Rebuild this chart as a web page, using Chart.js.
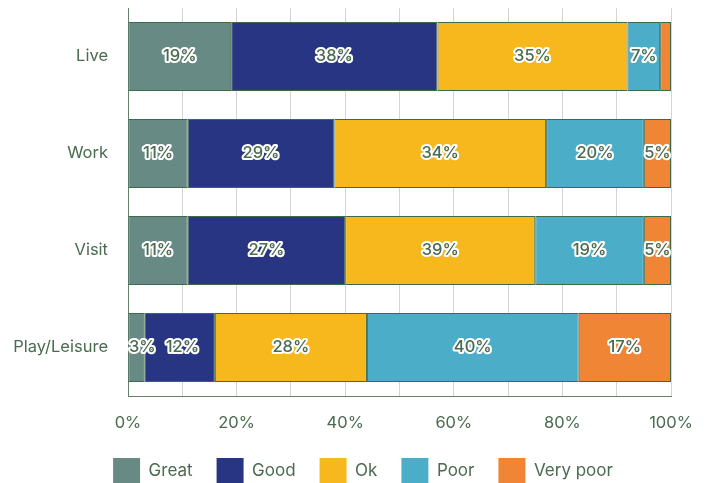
<!DOCTYPE html>
<html>
<head>
<meta charset="utf-8">
<script src="https://cdn.jsdelivr.net/npm/chart.js@4"></script>
<style>
  html, body { margin: 0; padding: 0; background: #fff; }
  #wrap { width: 713px; height: 483px; }
</style>
</head>
<body>
<div id="wrap"><canvas id="myChart"></canvas></div>
<script>
var categories = ["Live", "Work", "Visit", "Play/Leisure"];
var seriesNames = ["Great", "Good", "Ok", "Poor", "Very poor"];
var barColors = ["#678a84", "#283583", "#f6b81c", "#4badc8", "#ef8535"];

// bar lengths as drawn (%)
var great = [19, 11, 11, 3];
var good = [38, 27, 29, 13];
var ok = [35, 39, 35, 28];
var poor = [6, 18, 20, 39];
var veryPoor = [2, 5, 5, 17];

// percentages as printed on the bars
var greatLabels = [19, 11, 11, 3];
var goodLabels = [38, 29, 27, 12];
var okLabels = [35, 34, 39, 28];
var poorLabels = [7, 20, 19, 40];
var veryPoorLabels = [null, 5, 5, 17];

var xTicks = [0, 10, 20, 30, 40, 50, 60, 70, 80, 90, 100];
var xLabelled = [0, 20, 40, 60, 80, 100];

var values = [great, good, ok, poor, veryPoor];
var printed = [greatLabels, goodLabels, okLabels, poorLabels, veryPoorLabels];
var green = "#4a6b4f";
var fontFam = "Inter, 'Liberation Sans', sans-serif";

// percentage labels: green text with a white halo, pushed right if they collide
var barLabels = {
  id: "barLabels",
  afterDatasetsDraw: function(chart) {
    var ctx = chart.ctx;
    var left = chart.chartArea.left;
    var rowRight = categories.map(function() { return -Infinity; });
    ctx.save();
    ctx.font = "500 16.5px " + fontFam;
    ctx.textAlign = "center";
    ctx.textBaseline = "middle";
    ctx.lineJoin = "round";
    chart.data.datasets.forEach(function(ds, i) {
      var meta = chart.getDatasetMeta(i);
      meta.data.forEach(function(bar, j) {
        var v = printed[i][j];
        if (v == null) return;
        var txt = v + "%";
        var w = ctx.measureText(txt).width;
        var cx = (bar.x + bar.base) / 2;
        cx = Math.max(cx, left + w / 2 + 1, rowRight[j] + 10 + w / 2);
        rowRight[j] = cx + w / 2;
        ctx.lineWidth = 4;
        ctx.strokeStyle = "#fff";
        ctx.strokeText(txt, cx, bar.y);
        ctx.fillStyle = green;
        ctx.fillText(txt, cx, bar.y);
      });
    });
    ctx.restore();
  }
};

new Chart("myChart", {
  type: "bar",
  data: {
    labels: categories,
    datasets: seriesNames.map(function(name, i) {
      return {
        label: name,
        data: values[i],
        backgroundColor: barColors[i],
        borderColor: "#3d6a4b",
        borderWidth: 1,
        borderSkipped: false,
        categoryPercentage: 1,
        barPercentage: 0.71
      };
    })
  },
  options: {
    indexAxis: "y",
    responsive: true,
    maintainAspectRatio: false,
    animation: false,
    layout: { padding: { top: 8, right: 0, left: 13, bottom: -11 } },
    scales: {
      x: {
        stacked: true,
        min: 0,
        max: 100,
        afterBuildTicks: function(axis) {
          axis.ticks = xTicks.map(function(v) { return { value: v }; });
        },
        afterFit: function(axis) { axis.height = 38; },
        ticks: {
          color: green,
          font: { size: 16.5, family: fontFam },
          padding: 17,
          autoSkip: false,
          maxRotation: 0,
          callback: function(v) { return xLabelled.indexOf(v) >= 0 ? v + "%" : ""; }
        },
        grid: { color: "#d4d4d4", drawTicks: false },
        border: { display: true, color: "#62806a" }
      },
      y: {
        stacked: true,
        afterFit: function(axis) {
          axis.width = 115;
          axis.paddingTop = 0;
          axis.paddingBottom = 0;
        },
        ticks: {
          color: green,
          font: { size: 16.5, family: fontFam },
          padding: 20
        },
        grid: { display: false, drawTicks: false },
        border: { display: true, color: "#62806a" }
      },
      y2: {
        type: "linear",
        axis: "y",
        position: "right",
        ticks: { display: false },
        grid: { display: false, drawTicks: false },
        border: { display: false },
        afterFit: function(axis) {
          axis.width = 42;
          axis.paddingTop = 0;
          axis.paddingBottom = 0;
        }
      }
    },
    plugins: {
      legend: {
        position: "bottom",
        labels: {
          color: green,
          font: { size: 17, family: fontFam },
          boxWidth: 27,
          boxHeight: 26,
          padding: 24,
          generateLabels: function(chart) {
            return Chart.defaults.plugins.legend.labels.generateLabels(chart).map(function(l) {
              l.lineWidth = 0;
              return l;
            });
          }
        }
      },
      tooltip: { enabled: false }
    }
  },
  plugins: [barLabels]
});
</script>
</body>
</html>
